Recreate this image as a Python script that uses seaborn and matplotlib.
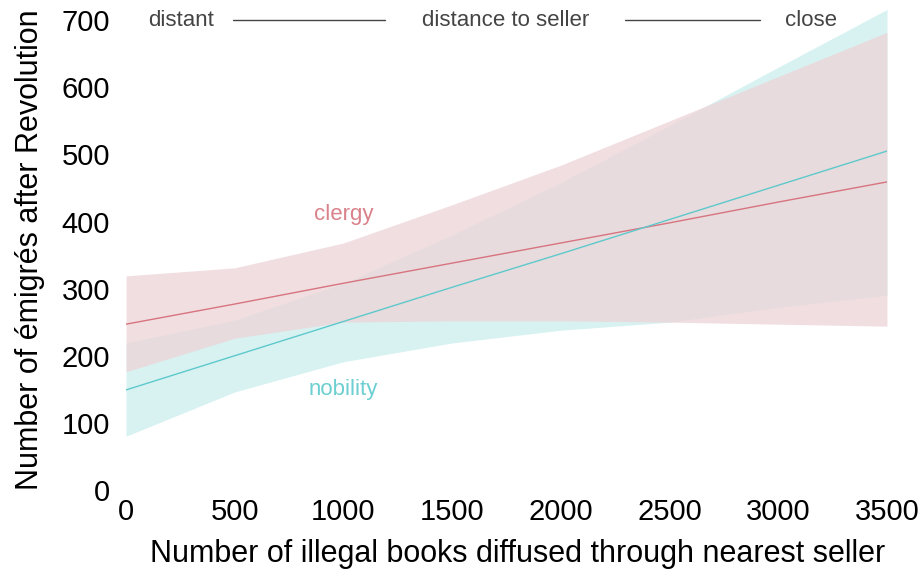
# Import the necessary libraries
import matplotlib.pyplot as plt
import seaborn as sns
import numpy as np
import pandas as pd

# values (fit line + band at each grid point)
books = [0, 500, 1000, 1500, 2000, 2500, 3000, 3500]
clergy_fit = [247, 277, 308, 338, 368, 398, 429, 459]
clergy_lo = [176, 226, 250, 252, 252, 250, 247, 244]
clergy_hi = [319, 331, 368, 425, 484, 550, 616, 682]
nobility_fit = [149, 200, 251, 302, 352, 403, 454, 505]
nobility_lo = [80, 146, 191, 219, 238, 250, 272, 290]
nobility_hi = [219, 253, 308, 380, 458, 543, 630, 716]

clergy_col = "#d7747f"
nobility_col = "#5ec9cc"

df = pd.DataFrame({
    "books": books * 2,
    "emigres": clergy_fit + nobility_fit,
    "group": ["clergy"] * len(books) + ["nobility"] * len(books),
})

sns.set_style("white")
plt.rcParams['font.family'] = ['Liberation Sans', 'DejaVu Sans']

fig = plt.figure(figsize=(9.22, 5.75), dpi=100)
ax = fig.add_axes([0.1367, 0.148, 0.8253, 0.846])

# bands: nobility underneath, clergy on top with partial alpha
ax.fill_between(books, nobility_lo, nobility_hi, color="#d8f2f2", lw=0, zorder=1)
ax.fill_between(books, clergy_lo, clergy_hi, color="#edd4d7", alpha=0.75, lw=0, zorder=2)

sns.lineplot(data=df, x="books", y="emigres", hue="group",
             palette={"clergy": clergy_col, "nobility": nobility_col},
             lw=1, legend=False, ax=ax, zorder=3)

ax.set_xlim(0, 3500)
ax.set_ylim(0, 725)
ax.set_xticks(books)
ax.set_yticks([0, 100, 200, 300, 400, 500, 600, 700])
ax.tick_params(axis="both", length=1.5, width=1, color="#333333",
               labelsize=21, labelcolor="black", direction="out")
ax.tick_params(axis="x", pad=4.5)
ax.tick_params(axis="y", pad=10)
for s in ax.spines.values():
    s.set_visible(False)

ax.set_xlabel("Number of illegal books diffused through nearest seller",
              fontsize=22, color="black")
ax.set_ylabel("Number of émigrés after Revolution", fontsize=22, color="black")
ax.xaxis.set_label_coords(0.514, -0.1)
ax.yaxis.set_label_coords(-0.106, 0.493)

# group labels
ax.text(1000, 410, "clergy", color="#d9828a", fontsize=16, ha="center", va="center")
ax.text(1000, 150, "nobility", color="#6dcfd1", fontsize=16, ha="center", va="center")

# distance annotation along the top
gray = "#444444"
ax.text(100, 700, "distant", color=gray, fontsize=16, ha="left", va="center")
ax.plot([492, 1191], [700, 700], color=gray, lw=1)
ax.text(1745, 700, "distance to seller", color=gray, fontsize=16, ha="center", va="center")
ax.plot([2295, 2916], [700, 700], color=gray, lw=1)
ax.text(3030, 700, "close", color=gray, fontsize=16, ha="left", va="center")

fig.savefig("out.png", dpi=100)
